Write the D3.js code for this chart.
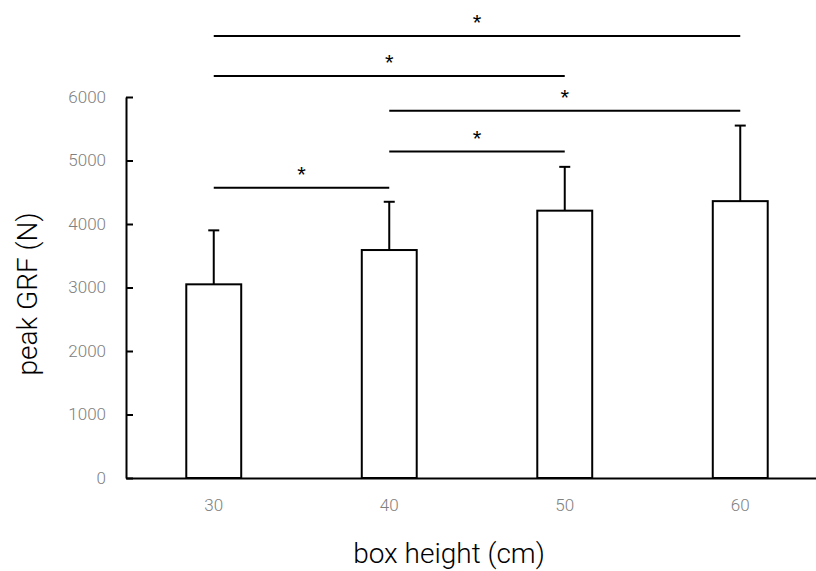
<!DOCTYPE html>
<html>
<head>
<meta charset="utf-8">
<script src="https://cdn.jsdelivr.net/npm/d3@7"></script>
<style>
  body { margin: 0; background: #fff; }
  svg { display: block; }
  .tick text { font-family: Roboto, "Liberation Sans", sans-serif; font-weight: 300; }
</style>
</head>
<body>
<div id="chart"></div>
<script>
// box heights and their peak ground reaction forces
var heights = ["30", "40", "50", "60"];
var meanGRF = [3050, 3590, 4210, 4360];
var upperSD = [3900, 4350, 4900, 5550];
var yTicks = [0, 1000, 2000, 3000, 4000, 5000, 6000];

// significance brackets: from, to, level (N)
var sigFrom = ["30", "30", "40", "40", "30"];
var sigTo = ["60", "50", "60", "50", "40"];
var sigLevel = [6960, 6330, 5785, 5140, 4570];

var width = 816, height = 571;
var plotLeft = 126, plotBottom = 478, plotTop = 97;

var svg = d3.select("#chart")
  .append("svg")
  .attr("width", width)
  .attr("height", height);

var x = d3.scaleBand()
  .domain(heights)
  .range([plotLeft, plotLeft + 4 * 175.5])
  .paddingInner(0.687)
  .paddingOuter(0.3435);

var y = d3.scaleLinear()
  .domain([0, 6000])
  .range([plotBottom, plotTop]);

var cx = function (h) { return x(h) + x.bandwidth() / 2; };

// y axis, ticks pointing inward
var yAxis = svg.append("g")
  .attr("transform", "translate(" + plotLeft + ",0)")
  .call(d3.axisRight(y).tickValues(yTicks).tickSize(7).tickSizeOuter(0).tickFormat(d3.format("d")));
yAxis.select(".domain").attr("stroke", "#000").attr("stroke-width", 2);
yAxis.selectAll(".tick line").attr("stroke", "#000").attr("stroke-width", 2);
yAxis.selectAll(".tick text")
  .attr("x", -20)
  .attr("text-anchor", "end")
  .attr("fill", "#808080")
  .style("font-size", "17px");

// error bars
var err = svg.append("g");
heights.forEach(function (h, i) {
  err.append("line")
    .attr("x1", cx(h)).attr("x2", cx(h))
    .attr("y1", y(meanGRF[i])).attr("y2", y(upperSD[i]))
    .attr("stroke", "#000").attr("stroke-width", 2);
  err.append("line")
    .attr("x1", cx(h) - 5.5).attr("x2", cx(h) + 5.5)
    .attr("y1", y(upperSD[i])).attr("y2", y(upperSD[i]))
    .attr("stroke", "#000").attr("stroke-width", 2);
});

// bars
svg.selectAll("rect.bar")
  .data(heights)
  .enter().append("rect")
  .attr("class", "bar")
  .attr("x", function (d) { return x(d); })
  .attr("y", function (d, i) { return y(meanGRF[i]); })
  .attr("width", x.bandwidth())
  .attr("height", function (d, i) { return plotBottom - y(meanGRF[i]); })
  .attr("fill", "#fff")
  .attr("stroke", "#000")
  .attr("stroke-width", 2);

// x axis
var xAxis = svg.append("g")
  .attr("transform", "translate(0," + plotBottom + ")")
  .call(d3.axisBottom(x).tickSize(0).tickSizeOuter(0));
xAxis.select(".domain").attr("stroke", "#000").attr("stroke-width", 2);
xAxis.selectAll(".tick text")
  .attr("y", 21)
  .attr("fill", "#808080")
  .style("font-size", "17px");

// significance lines and stars
var sig = svg.append("g");
sigLevel.forEach(function (lv, i) {
  var x1 = cx(sigFrom[i]), x2 = cx(sigTo[i]);
  sig.append("line")
    .attr("x1", x1).attr("x2", x2)
    .attr("y1", y(lv)).attr("y2", y(lv))
    .attr("stroke", "#000").attr("stroke-width", 2);
  sig.append("text")
    .attr("x", (x1 + x2) / 2)
    .attr("y", y(lv) - 6)
    .attr("text-anchor", "middle")
    .attr("fill", "#000")
    .style("font-family", "'Liberation Sans', sans-serif")
    .style("font-size", "22px")
    .text("*");
});

// axis titles
svg.append("text")
  .attr("x", 449)
  .attr("y", 563)
  .attr("text-anchor", "middle")
  .style("font-family", "Roboto, 'Liberation Sans', sans-serif")
  .style("font-weight", 300)
  .style("font-size", "28px")
  .text("box height (cm)");

svg.append("text")
  .attr("transform", "translate(37,294) rotate(-90)")
  .attr("text-anchor", "middle")
  .style("font-family", "Roboto, 'Liberation Sans', sans-serif")
  .style("font-weight", 300)
  .style("font-size", "28px")
  .text("peak GRF (N)");
</script>
</body>
</html>
